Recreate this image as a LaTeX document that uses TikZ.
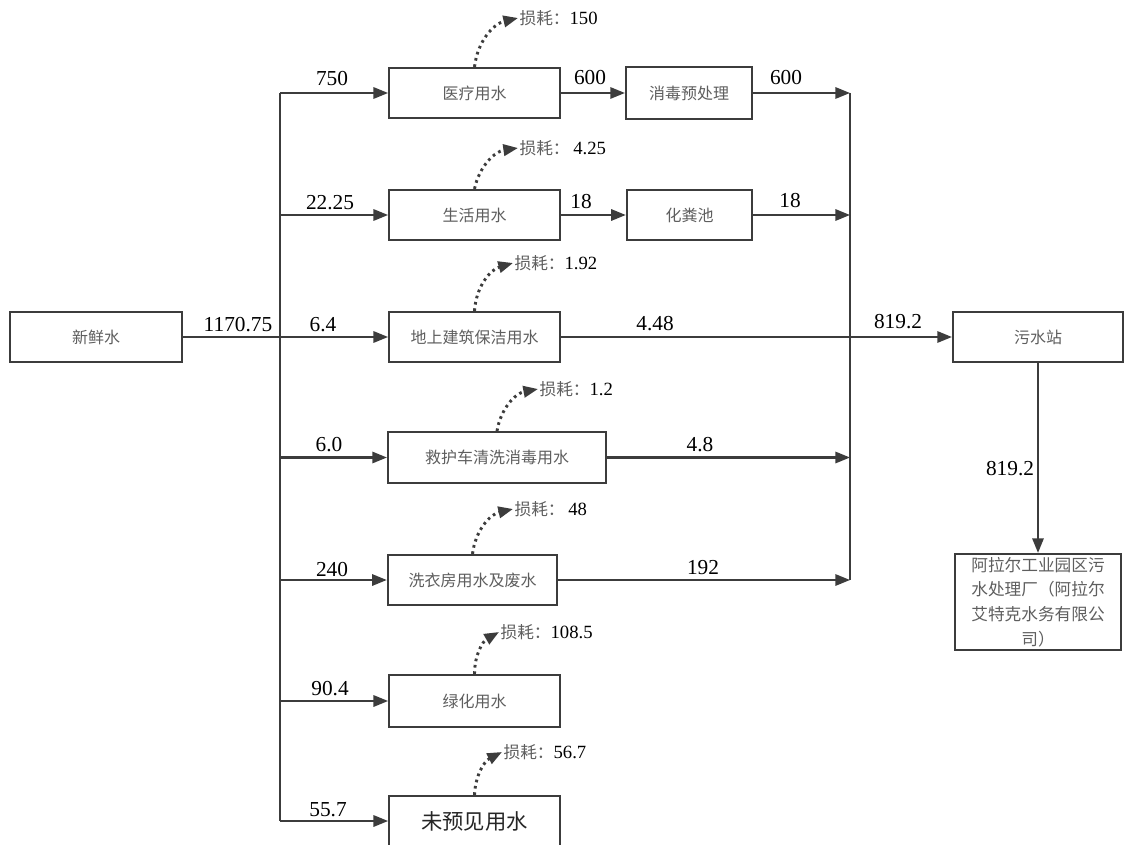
\documentclass[tikz,border=0pt]{standalone}
\usepackage{fontspec}
\setmainfont{Liberation Serif}
\newfontfamily\cjk{Noto Sans CJK SC}
\usetikzlibrary{arrows.meta}

\definecolor{linegray}{HTML}{3C3C3C}
\definecolor{txtgray}{HTML}{5E5E5E}

\tikzset{
  box/.style={draw=linegray, line width=1.6pt, minimum width=128pt, minimum height=37.5pt,
    inner sep=0pt, text=txtgray, font=\cjk\fontsize{12}{14}\selectfont},
  num/.style={inner sep=0pt, font=\fontsize{16}{18}\selectfont},
  pipe/.style={draw=linegray, line width=1.6pt},
  flow/.style={pipe, -{Triangle[length=11pt,width=8.5pt]}},
  loss/.style={draw=linegray, line width=2.2pt, dash pattern=on 2pt off 2.8pt,
    -{Triangle[length=11pt,width=8.5pt]}},
  losstxt/.style={anchor=west, inner sep=1pt, text=txtgray, font=\cjk\fontsize{12.5}{14}\selectfont},
}
\newcommand{\lossval}[1]{{\rmfamily\color{black}\fontsize{14}{16}\selectfont #1}}

\begin{document}
\begin{tikzpicture}[x=0.75pt, y=-0.75pt]
  \path[use as bounding box, fill=white] (0,0) rectangle (1124,845);

  % boxes
  \node[box, minimum width=129pt, minimum height=38pt] (fresh) at (96,337) {新鲜水};
  \node[box] (med) at (474.5,93) {医疗用水};
  \node[box, minimum width=94.5pt, minimum height=39pt] (dis) at (689,93) {消毒预处理};
  \node[box] (life) at (474.5,215) {生活用水};
  \node[box, minimum width=94pt] (sep) at (689.5,215) {化粪池};
  \node[box] (clean) at (474.5,337) {地上建筑保洁用水};
  \node[box, minimum width=163.5pt, minimum height=38pt] (amb) at (497,457.5) {救护车清洗消毒用水};
  \node[box, minimum width=127pt] (laund) at (472.5,580) {洗衣房用水及废水};
  \node[box, minimum height=39pt] (green) at (474.5,701) {绿化用水};
  \node[box, text=black!85, font=\cjk\fontsize{16}{18}\selectfont] (misc) at (474.5,821) {未预见用水};
  \node[box, minimum width=127.5pt, minimum height=38pt] (sws) at (1038,337) {污水站};
  \node[box, minimum width=124pt, minimum height=72pt, align=center,
    font=\cjk\fontsize{12.5}{18.5}\selectfont] (plant) at (1038,602)
    {阿拉尔工业园区污\\水处理厂（阿拉尔\\艾特克水务有限公\\司）};

  % trunk and collector
  \coordinate (trunk) at (280,0);
  \coordinate (coll) at (850,0);
  \draw[pipe] (med.west -| trunk) -- (misc.west -| trunk);
  \draw[pipe] (fresh.east) -- (clean.west -| trunk);
  \foreach \b in {med,life,clean,amb,laund,green,misc}
    \draw[flow] (\b.west -| trunk) -- (\b.west);

  \draw[flow] (med) -- (dis);
  \draw[flow] (life) -- (sep);
  \draw[pipe] (dis.east -| coll) -- (laund.east -| coll);
  \foreach \b in {dis,sep,amb,laund}
    \draw[flow] (\b.east) -- (\b.east -| coll);
  \draw[flow] (clean.east) -- (sws.west);
  \draw[flow] (sws) -- (plant);

  % flow values
  \node[num] (q0) at (238,325) {1170.75};
  \node[num] (q1) at (332,79) {750};
  \node[num] (q2) at (330,203) {22.25};
  \node[num] (q3) at (323,325) {6.4};
  \node[num] (q4) at (329,445) {6.0};
  \node[num] (q5) at (332,570) {240};
  \node[num] (q6) at (330,689) {90.4};
  \node[num] (q7) at (328,810) {55.7};
  \node[num] (q8) at (590,78) {600};
  \node[num] (q9) at (786,78) {600};
  \node[num] (q10) at (581,202) {18};
  \node[num] (q11) at (790,201) {18};
  \node[num] (q12) at (655,324) {4.48};
  \node[num] (q13) at (898,322) {819.2};
  \node[num] (q14) at (700,445) {4.8};
  \node[num] (q15) at (703,568) {192};
  \node[num] (q16) at (1010,469) {819.2};

  % losses
  \node[losstxt] (l1) at (518,18) {损耗：\lossval{150}};
  \node[losstxt] (l2) at (518,148) {损耗： \lossval{4.25}};
  \node[losstxt] (l3) at (513,263) {损耗：\lossval{1.92}};
  \node[losstxt] (l4) at (538,389) {损耗：\lossval{1.2}};
  \node[losstxt] (l5) at (513,509) {损耗： \lossval{48}};
  \node[losstxt] (l6) at (499,632) {损耗：\lossval{108.5}};
  \node[losstxt] (l7) at (502,752) {损耗：\lossval{56.7}};
  \draw[loss] (med.north) to[bend left=35] (l1.west);
  \draw[loss] (life.north) to[bend left=35] (l2.west);
  \draw[loss] (clean.north) to[bend left=35] (l3.west);
  \draw[loss] (amb.north) to[bend left=35] (l4.west);
  \draw[loss] (laund.north) to[bend left=35] (l5.west);
  \draw[loss] (green.north) to[bend left=30] (l6.west);
  \draw[loss] (misc.north) to[bend left=30] (l7.west);
\end{tikzpicture}
\end{document}
